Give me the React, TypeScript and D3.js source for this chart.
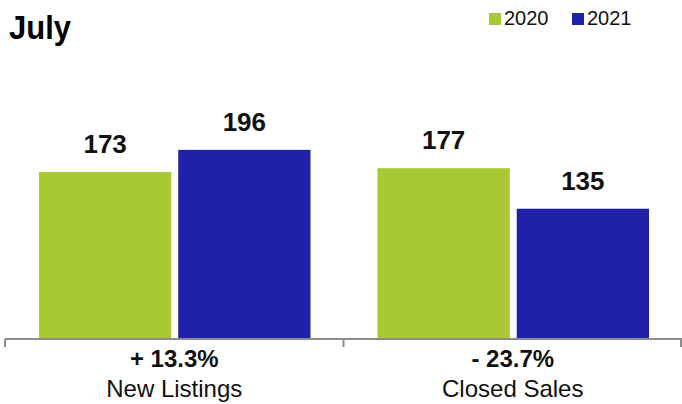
import { useEffect, useRef } from "react"
import * as d3 from "d3"

const categories = ["New Listings", "Closed Sales"]
const years = ["2020", "2021"]
const values2020 = [173, 177]
const values2021 = [196, 135]
const changes = ["+ 13.3%", "- 23.7%"]
const colors = ["#a8c934", "#1f22a6"]

const W = 682
const H = 404

export default function App() {
  const svgRef = useRef<SVGSVGElement | null>(null)

  useEffect(() => {
    if (!svgRef.current) return
    const svg = d3.select(svgRef.current)
    svg.selectAll("*").remove()

    const font = "'Liberation Sans', Arial, Helvetica, sans-serif"
    const axisY = 339

    // scales
    const x0 = d3.scaleBand().domain(categories).range([5, 682]).padding(0)
    const x1 = d3
      .scaleBand()
      .domain(years)
      .range([34, x0.bandwidth() - 33])
      .paddingInner(0.05)
      .paddingOuter(0)
    const y = d3.scaleLinear().domain([0, 200]).range([axisY, axisY - 193])

    // title
    svg
      .append("text")
      .attr("x", 9)
      .attr("y", 39)
      .attr("font-family", font)
      .attr("font-weight", "bold")
      .attr("font-size", 33)
      .attr("textLength", 62)
      .attr("lengthAdjust", "spacingAndGlyphs")
      .text("July")

    // legend
    const legendX = [489, 572]
    years.forEach((yr, i) => {
      const g = svg.append("g").attr("transform", `translate(${legendX[i]}, 13)`)
      g.append("rect").attr("width", 12).attr("height", 12).attr("fill", colors[i])
      g.append("text")
        .attr("x", 15)
        .attr("y", 12)
        .attr("font-family", font)
        .attr("font-size", 20)
        .attr("fill", "#111")
        .text(yr)
    })

    const rows = categories.map((c, i) => ({ cat: c, vals: [values2020[i], values2021[i]] }))

    rows.forEach((row) => {
      const gx = x0(row.cat) ?? 0
      row.vals.forEach((v, j) => {
        const bx = gx + (x1(years[j]) ?? 0)
        svg
          .append("rect")
          .attr("x", bx)
          .attr("y", y(v))
          .attr("width", x1.bandwidth())
          .attr("height", axisY - y(v))
          .attr("fill", colors[j])
        svg
          .append("text")
          .attr("x", bx + x1.bandwidth() / 2)
          .attr("y", y(v) - 19)
          .attr("text-anchor", "middle")
          .attr("font-family", font)
          .attr("font-weight", "bold")
          .attr("font-size", 26)
          .attr("fill", "#111")
          .text(v)
      })
    })

    // axis
    const axis = svg.append("g").attr("stroke", "#8c8c8c").attr("stroke-width", 2)
    axis.append("line").attr("x1", 5).attr("x2", 682).attr("y1", axisY).attr("y2", axisY)
    const tickXs = [...categories.map((c) => x0(c) ?? 0), 681]
    tickXs.forEach((tx) => {
      axis.append("line").attr("x1", tx).attr("x2", tx).attr("y1", axisY).attr("y2", axisY + 8)
    })

    // change labels and category names
    categories.forEach((c, i) => {
      const cx = (x0(c) ?? 0) + x0.bandwidth() / 2
      svg
        .append("text")
        .attr("x", cx)
        .attr("y", 367)
        .attr("text-anchor", "middle")
        .attr("font-family", font)
        .attr("font-weight", "bold")
        .attr("font-size", 24)
        .attr("fill", "#111")
        .text(changes[i])
      svg
        .append("text")
        .attr("x", cx)
        .attr("y", 397)
        .attr("text-anchor", "middle")
        .attr("font-family", font)
        .attr("font-size", 24)
        .attr("fill", "#111")
        .text(c)
    })
  }, [])

  return (
    <svg
      ref={svgRef}
      width={W}
      height={H}
      style={{ position: "absolute", left: 0, top: 0, background: "#fff" }}
    />
  )
}
